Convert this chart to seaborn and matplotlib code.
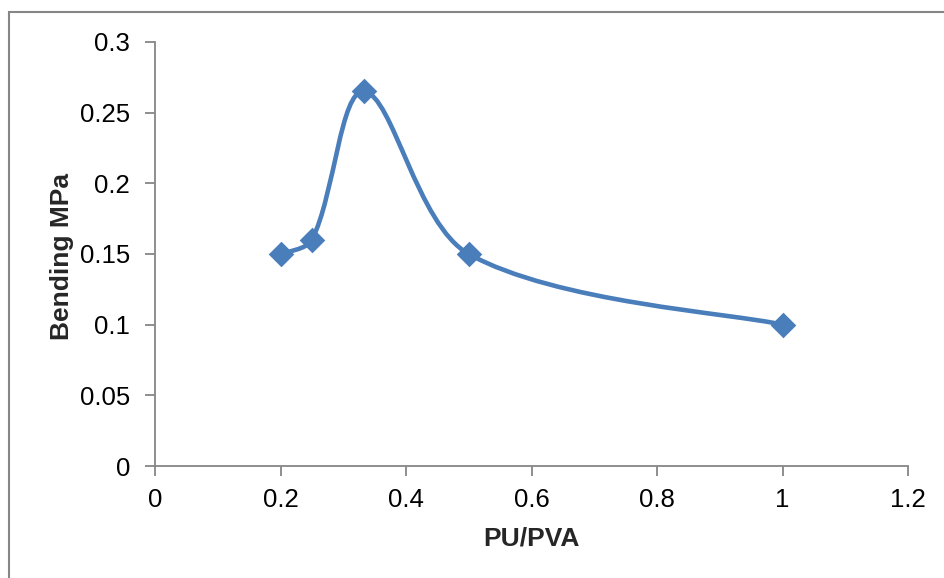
import matplotlib
matplotlib.use("Agg")
import numpy as np
import matplotlib.pyplot as plt
from matplotlib.path import Path
from matplotlib.patches import PathPatch, Rectangle
from matplotlib.ticker import FuncFormatter, MultipleLocator
import seaborn as sns

ratio = [0.2, 0.25, 0.333, 0.5, 1.0]
bending = [0.15, 0.16, 0.265, 0.15, 0.10]

x_label = "PU/PVA"
y_label = "Bending MPa"
line_color = "#4A7EBB"
axis_color = "#868686"


def smooth_path(ax, xs, ys):
    # excel-like smoothed line, control points weighted by segment length on screen
    pts = ax.transData.transform(np.column_stack([xs, ys]))
    n = len(pts)
    verts = [pts[0]]
    codes = [Path.MOVETO]
    for i in range(n - 1):
        p0 = pts[i - 1] if i > 0 else pts[i]
        p1 = pts[i]
        p2 = pts[i + 1]
        p3 = pts[i + 2] if i + 2 < n else pts[i + 1]
        d01 = np.hypot(*(p1 - p0))
        d12 = np.hypot(*(p2 - p1))
        d23 = np.hypot(*(p3 - p2))
        f1 = d12 / (d01 + d12) / 3 if d01 > 0 else 1 / 6
        f2 = d12 / (d12 + d23) / 3 if d23 > 0 else 1 / 6
        c1 = p1 + (p2 - p0) * f1
        c2 = p2 - (p3 - p1) * f2
        verts += [c1, c2, p2]
        codes += [Path.CURVE4] * 3
    verts = ax.transData.inverted().transform(np.array(verts))
    return Path(verts, codes)


sns.set_style("white")
plt.rcParams["font.family"] = ["Liberation Sans", "DejaVu Sans"]

fig = plt.figure(figsize=(9.44, 5.78), dpi=100)
ax = fig.add_axes([155 / 944, 1 - 466 / 578, 753 / 944, 424 / 578])

# outer chart frame
fig.patches.append(Rectangle((8.5 / 944, -0.1), 1.2, 1 - 12.5 / 578 + 0.1,
                             transform=fig.transFigure, fill=False,
                             edgecolor=axis_color, linewidth=1.5))

ax.set_xlim(0, 1.2)
ax.set_ylim(0, 0.3)

ax.add_patch(PathPatch(smooth_path(ax, ratio, bending), fill=False,
                       edgecolor=line_color, linewidth=3.3,
                       capstyle="round", joinstyle="round", zorder=2))
sns.scatterplot(x=ratio, y=bending, marker="D", s=170, color=line_color,
                edgecolor=line_color, linewidth=0, ax=ax, zorder=3)

ax.set_xlim(0, 1.2)
ax.set_ylim(0, 0.3)
ax.xaxis.set_major_locator(MultipleLocator(0.2))
ax.yaxis.set_major_locator(MultipleLocator(0.05))
fmt = FuncFormatter(lambda v, p: f"{round(v, 2):g}")
ax.xaxis.set_major_formatter(fmt)
ax.yaxis.set_major_formatter(fmt)

for side in ["top", "right"]:
    ax.spines[side].set_visible(False)
for side in ["left", "bottom"]:
    ax.spines[side].set_color(axis_color)
    ax.spines[side].set_linewidth(1.3)

ax.tick_params(axis="both", which="major", direction="out", length=7,
               width=1.3, color=axis_color, labelsize=18.5, labelcolor="black",
               bottom=True, left=True)
ax.tick_params(axis="y", pad=11)
ax.tick_params(axis="x", pad=9)
ax.set_xlabel(x_label, fontsize=19, fontweight="bold")
ax.set_ylabel(y_label, fontsize=19, fontweight="bold")
ax.xaxis.set_label_coords(0.5, -0.142)
ax.yaxis.set_label_coords(-0.108, 0.495)

fig.savefig("out.png", dpi=100)
